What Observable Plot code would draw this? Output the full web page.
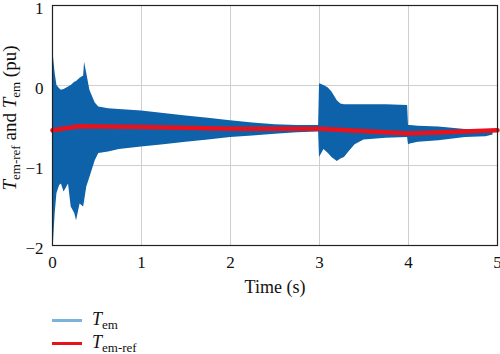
<!DOCTYPE html>
<html>
<head>
<meta charset="utf-8">
<script src="https://cdn.jsdelivr.net/npm/d3@7"></script>
<script src="https://cdn.jsdelivr.net/npm/@observablehq/plot@0.6"></script>
<style>
  html, body { margin: 0; padding: 0; background: #fff; }
  #wrap { position: relative; width: 500px; height: 354px; overflow: hidden; font-family: 'Liberation Serif', serif; }
  #legend { position: absolute; left: 0; top: 300px; width: 500px; height: 54px; }
  .row { position: absolute; left: 52px; height: 24px; display: flex; align-items: center; font-size: 18px; line-height: 18px; color: #111; font-family: 'Liberation Serif', serif; }
  .sw { width: 30px; height: 3px; margin-right: 10px; }
  .row sub { font-size: 13px; line-height: 13px; vertical-align: -4px; }
  svg text { font-family: 'Liberation Serif', serif; }
</style>
</head>
<body>
<div id="wrap"><div id="chart"></div><div id="legend"></div></div>
<script>
// Envelope of the oscillating T_em signal (hand-read upper/lower bounds)
const tEnv  = [0, 0.01, 0.03, 0.05, 0.08, 0.1, 0.13, 0.18, 0.21, 0.25, 0.27, 0.31, 0.35, 0.36, 0.385, 0.42, 0.48, 0.52, 0.63, 0.75, 1.0, 1.25, 1.5, 1.75, 2.0, 2.25, 2.5, 2.75, 2.99, 3.0, 3.01, 3.05, 3.1, 3.14, 3.2, 3.24, 3.28, 3.33, 3.4, 3.5, 3.75, 3.99, 4.0, 4.02, 4.11, 4.34, 4.64, 4.87, 4.95];
const temHi = [0.38, 0.37, 0.15, 0.0, -0.04, -0.06, -0.05, -0.02, 0.0, 0.04, 0.05, 0.09, 0.12, 0.29, 0.15, -0.06, -0.22, -0.27, -0.29, -0.3, -0.32, -0.35, -0.38, -0.41, -0.44, -0.47, -0.49, -0.5, -0.5, 0.02, 0.02, 0.0, -0.03, -0.08, -0.19, -0.23, -0.24, -0.24, -0.24, -0.24, -0.24, -0.25, -0.5, -0.5, -0.51, -0.52, -0.55, -0.56, -0.56];
const temLo = [-2.0, -1.98, -1.6, -1.35, -1.25, -1.23, -1.33, -1.23, -1.52, -1.6, -1.69, -1.48, -1.52, -1.45, -1.27, -1.15, -0.94, -0.85, -0.83, -0.8, -0.77, -0.74, -0.71, -0.68, -0.65, -0.63, -0.61, -0.59, -0.58, -0.9, -0.88, -0.8, -0.85, -0.9, -0.95, -0.92, -0.9, -0.83, -0.74, -0.68, -0.66, -0.65, -0.74, -0.73, -0.71, -0.69, -0.65, -0.64, -0.62];
// Reference torque T_em-ref
const tRef = [0, 0.3, 1, 2, 3, 4, 5];
const temRef = [-0.56, -0.51, -0.52, -0.54, -0.54, -0.6, -0.56];
// Ticks
const xTicks = [0, 1, 2, 3, 4, 5];
const yTicks = [-2, -1, 0, 1];

const env = tEnv.map((t, i) => ({t, hi: temHi[i], lo: temLo[i]}));
const ref = tRef.map((t, i) => ({t, v: temRef[i]}));

const FONT = "'Liberation Serif', serif";
const blue = "#0d62aa", red = "#e8121c";

const chart = Plot.plot({
  width: 500, height: 300,
  marginLeft: 52, marginRight: 3, marginTop: 5, marginBottom: 55,
  style: {fontFamily: FONT, fontSize: "17px", color: "#111", background: "#fff", overflow: "visible"},
  x: {domain: [0, 5]},
  y: {domain: [-2, 1]},
  marks: [
    Plot.gridX(xTicks, {stroke: "#cfcfcf", strokeOpacity: 1}),
    Plot.gridY(yTicks, {stroke: "#cfcfcf", strokeOpacity: 1}),
    Plot.areaY(env, {x: "t", y1: "lo", y2: "hi", fill: blue}),
    Plot.line(ref, {x: "t", y: "v", stroke: red, strokeWidth: 4.5}),
    Plot.frame({stroke: "#222", strokeWidth: 1.2}),
    Plot.axisX(xTicks, {tickSize: 0, tickPadding: 10, label: null, fontSize: 17, tickFormat: d => String(d)}),
    Plot.axisY(yTicks, {tickSize: 0, tickPadding: 9, label: null, fontSize: 17, dy: 3, tickFormat: d => d < 0 ? "\u2212" + Math.abs(d) : String(d)}),
    Plot.text(["Time (s)"], {frameAnchor: "bottom", dy: 47, fontSize: 18, fill: "#111"})
  ]
});
document.getElementById("chart").appendChild(chart);

// Rotated y-axis label with italic T and subscripts
const svg = d3.select(chart);
const yl = svg.append("text")
  .attr("transform", "translate(16,118) rotate(-90)")
  .attr("text-anchor", "middle")
  .attr("font-size", 19).attr("fill", "#111");
yl.append("tspan").attr("font-style", "italic").text("T");
yl.append("tspan").attr("font-size", 13).attr("dy", 4).text("em-ref");
yl.append("tspan").attr("dy", -4).text(" and ");
yl.append("tspan").attr("font-style", "italic").text("T");
yl.append("tspan").attr("font-size", 13).attr("dy", 4).text("em");
yl.append("tspan").attr("dy", -4).text(" (pu)");
svg.selectAll("text").attr("font-family", FONT).style("font-family", FONT);

// Legend
const legendItems = [
  {color: "#7ab3dc", sub: "em"},
  {color: red, sub: "em-ref"}
];
const leg = document.getElementById("legend");
legendItems.forEach((it, i) => {
  const row = document.createElement("div");
  row.className = "row";
  row.style.top = (i * 23 + 8) + "px";
  row.innerHTML = `<span class="sw" style="background:${it.color}"></span><span><i>T</i><sub>${it.sub}</sub></span>`;
  leg.appendChild(row);
});
</script>
</body>
</html>
